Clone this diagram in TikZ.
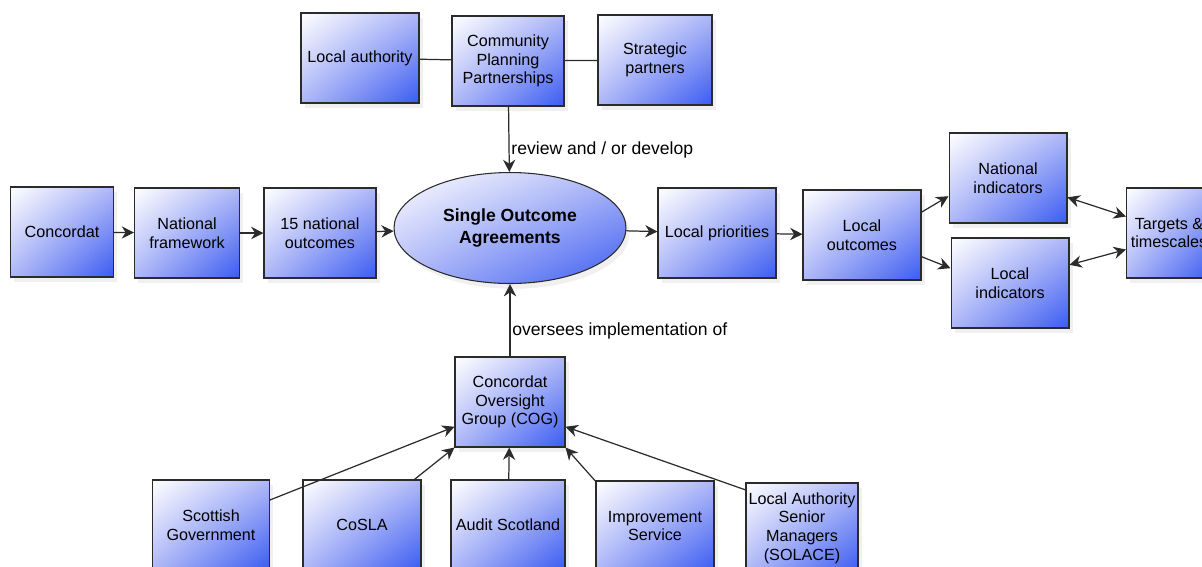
\documentclass[tikz,border=0pt]{standalone}
\usepackage{fontspec}
\setmainfont{Liberation Sans}
\usepackage{xcolor}
\usepackage{tikz}
\usetikzlibrary{arrows.meta, positioning, shapes.geometric, shadows, shadings}
\definecolor{bleufonce}{HTML}{3A5BF2}
\definecolor{bleumoyen}{HTML}{AEB7F7}
\definecolor{trait}{HTML}{2B2B2B}

\begin{document}
\begin{tikzpicture}[x=0.02cm, y=-0.02cm,
    boite/.style={rectangle, draw=trait, line width=0.6pt, align=center,
      minimum width=2.36cm, minimum height=1.8cm, inner sep=1pt,
      font=\fontsize{9.2}{10.6}\selectfont,
      upper left=white, upper right=bleumoyen, lower left=bleumoyen, lower right=bleufonce,
      drop shadow={shadow xshift=2pt, shadow yshift=-3pt, opacity=0.12}},
    fleche/.style={draw=trait, line width=0.7pt, -{Stealth[length=7pt, width=7pt]}},
    double/.style={draw=trait, line width=0.7pt, {Stealth[length=7pt, width=7pt]}-{Stealth[length=7pt, width=7pt]}},
    lien/.style={draw=trait, line width=0.7pt},
    etiquette/.style={font=\fontsize{10}{12}\selectfont, inner sep=1pt}]
  \useasboundingbox (0,0) rectangle (1202,566);
  % Partenaires
  \node[boite] (la) at (360,58) {Local authority};
  \node[boite, minimum width=2.24cm] (cpp) at (508,61) {Community\\Planning\\Partnerships};
  \node[boite, minimum width=2.28cm] (sp) at (655,60) {Strategic\\partners};
  % Chaine principale
  \node[boite, minimum width=2.06cm] (conc) at (62,232) {Concordat};
  \node[boite, minimum width=2.1cm] (nf) at (187,233) {National\\framework};
  \node[boite, minimum width=2.24cm] (n15) at (320,233) {15 national\\outcomes};
  \node[ellipse, draw=trait, line width=0.6pt, align=center, inner sep=0pt,
    minimum width=4.64cm, minimum height=2.22cm,
    font=\fontsize{10}{12}\selectfont\bfseries,
    upper left=white, upper right=bleumoyen, lower left=bleumoyen, lower right=bleufonce,
    drop shadow={shadow xshift=2pt, shadow yshift=-3pt, opacity=0.12}]
    (soa) at (510,228) {Single Outcome\\Agreements};
  \node[boite] (lp) at (717,233) {Local priorities};
  \node[boite] (lo) at (862,235) {Local\\outcomes};
  \node[boite] (ni) at (1008,178) {National\\indicators};
  \node[boite] (li) at (1010,283) {Local\\indicators};
  \node[boite, minimum width=1.7cm] (tg) at (1169,233) {Targets \&\\timescales};
  % Supervision
  \node[boite, minimum width=2.2cm] (cog) at (510,402) {Concordat\\Oversight\\Group (COG)};
  \node[boite, minimum width=2.34cm] (sg) at (211,525) {Scottish\\Government};
  \node[boite] (cosla) at (362,525) {CoSLA};
  \node[boite, minimum width=2.28cm] (audit) at (508,525) {Audit Scotland};
  \node[boite] (imp) at (655,526) {Improvement\\Service};
  \node[boite, minimum width=2.24cm] (solace) at (802,528) {Local Authority\\Senior\\Managers\\(SOLACE)};
  % Liens
  \draw[lien] (la) -- (cpp);
  \draw[lien] (cpp) -- (sp);
  \draw[fleche] (cpp) -- (soa) node[etiquette, pos=0.67, right] (revue) {review and / or develop};
  \draw[fleche] (conc) -- (nf);
  \draw[fleche] (nf) -- (n15);
  \draw[fleche] (n15) -- (soa);
  \draw[fleche] (soa) -- (lp);
  \draw[fleche] (lp) -- (lo);
  \draw[fleche] (lo.21) -- (ni.197);
  \draw[fleche] (lo.-20) -- (li.166);
  \draw[double] (ni.-18) -- (tg.159);
  \draw[double] (li.17) -- (tg.201);
  \draw[fleche] (cog) -- (soa) node[etiquette, pos=0.35, right] (suivi) {oversees implementation of};
  \draw[fleche] (sg.23) -- (cog.204);
  \draw[fleche] (cosla.41) -- (cog.south west);
  \draw[fleche] (audit) -- (cog);
  \draw[fleche] (imp.143) -- (cog.south east);
  \draw[fleche] (solace.146) -- (cog.-24);
\end{tikzpicture}
\end{document}
